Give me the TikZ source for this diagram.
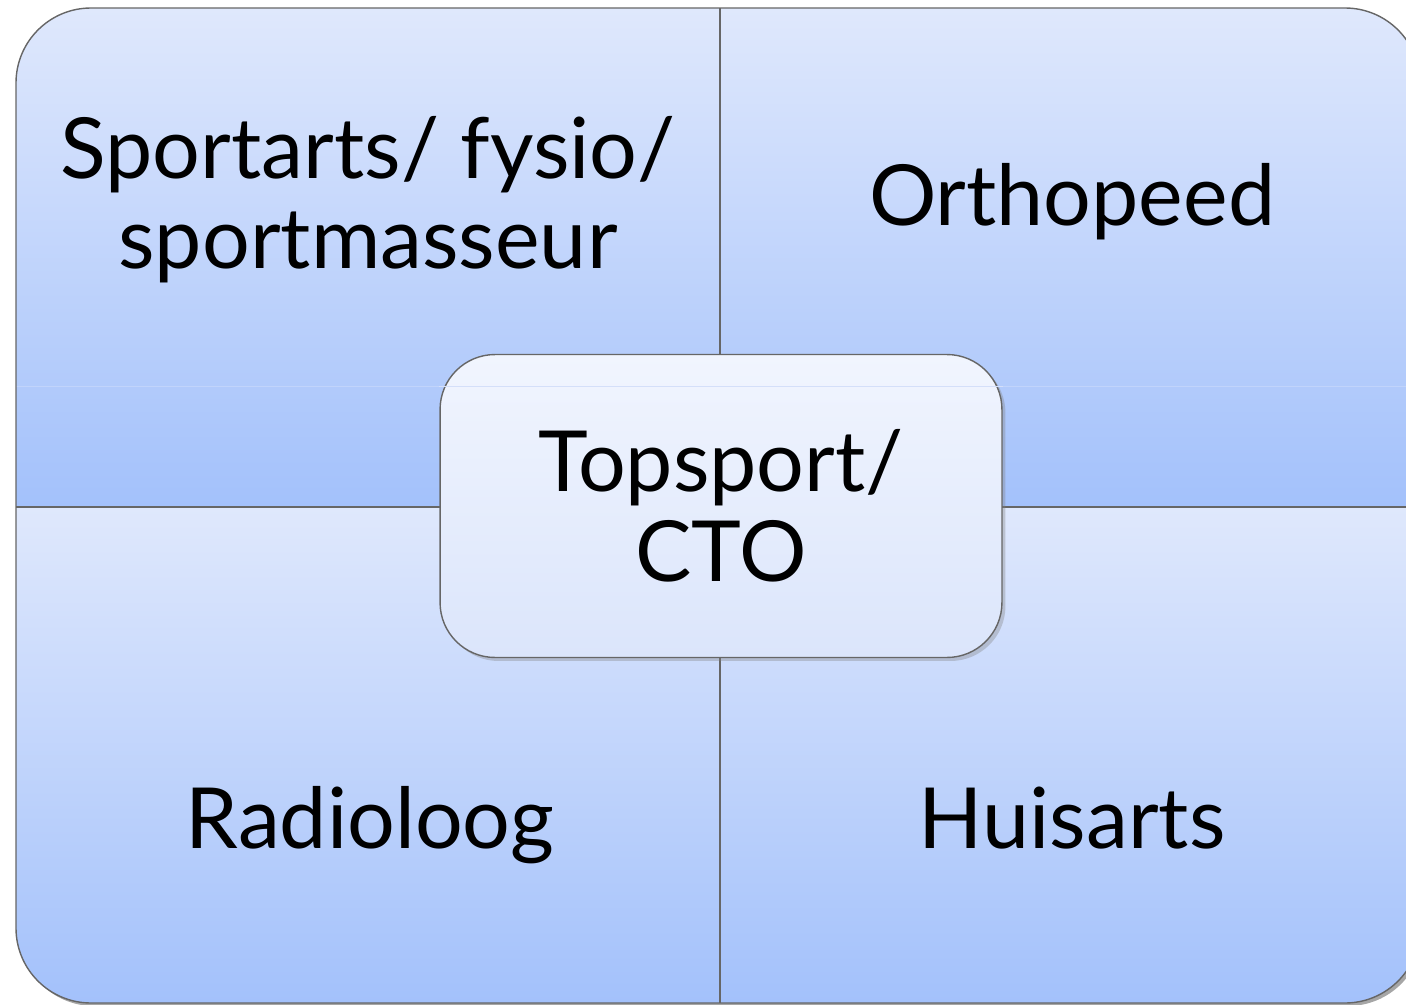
\documentclass[tikz,border=0pt]{standalone}
\usepackage{fontspec}
\setmainfont{Lato}
\usetikzlibrary{positioning}
\usetikzlibrary{shadows}
\colorlet{edge colour}{black!60}
\definecolor{quad top colour}{RGB}{223,232,252}
\definecolor{quad bottom colour}{RGB}{163,193,251}
\definecolor{centre top colour}{RGB}{241,245,254}
\definecolor{centre bottom colour}{RGB}{219,229,251}
\definecolor{gloss colour}{RGB}{212,223,249}
\tikzset{
    % Define a set of styles
    % First the fills
    quad fill/.style={top color=quad top colour, bottom color=quad bottom colour},
    centre fill/.style={top color=centre top colour, bottom color=centre bottom colour},
    % Next some lines
    divider/.style={draw=edge colour, line width=0.9pt},
    outline/.style={draw=edge colour, line width=0.8pt},
    gloss/.style={draw=white, line width=0.5pt, opacity=0.2},
%
    every node/.style={align=center},
    big text/.style={font=\fontsize{48}{51}\selectfont, inner sep=0pt},
%
    centre box/.style={
        outline, centre fill, rounded corners=1.1cm, big text,
        minimum width=11.24cm, minimum height=6.06cm,
        drop shadow={shadow xshift=2pt, shadow yshift=-2pt, opacity=0.35}},
}

\begin{document}
\begin{tikzpicture}[
    x=0.02cm, y=-0.02cm]

\useasboundingbox (0,0) rectangle (1406,1004);

% shadow under the matrix
\fill [black!35, rounded corners=1.5cm] (19,11) rectangle (1423,1006);

% the four quadrants
\begin{scope}
    \clip [rounded corners=1.5cm] (16,8) rectangle (1420,1003);
    \path [quad fill] (16,8) rectangle (720,507);
    \path [quad fill] (720,8) rectangle (1420,507);
    \path [quad fill] (16,507) rectangle (720,1003);
    \path [quad fill] (720,507) rectangle (1420,1003);
    \draw [gloss] (16,386) -- (1420,386);
\end{scope}
\draw [outline, rounded corners=1.5cm] (16,8) rectangle (1420,1003);

\coordinate (top mid) at (720,8);
\coordinate (bottom mid) at (720,1003);
\coordinate (left mid) at (16,507);
\coordinate (right mid) at (1420,507);
\draw [divider] (top mid) -- (bottom mid);
\draw [divider] (left mid) -- (right mid);

\path
    (368,268) node [big text, anchor=base] (sportarts) {Sportarts/ fysio/\\sportmasseur}
    (1072,225) node [big text, anchor=base] (orthopeed) {Orthopeed}
    (370,848) node [big text, anchor=base] (radioloog) {Radioloog}
    (1072,848) node [big text, anchor=base] (huisarts) {Huisarts};

\node [centre box] (topsport) at (721,506) {Topsport/\\CTO};
\draw [draw=gloss colour, line width=0.5pt]
    (topsport.west |- 0,386) -- (topsport.east |- 0,386);

\end{tikzpicture}
\end{document}
